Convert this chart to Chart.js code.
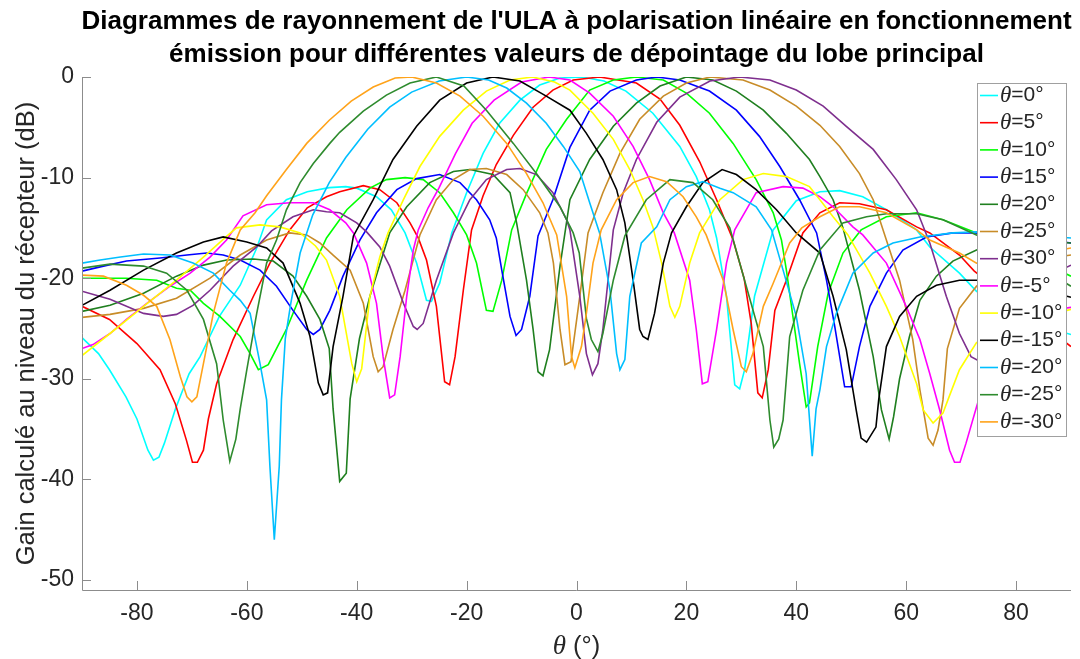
<!DOCTYPE html>
<html>
<head>
<meta charset="utf-8">
<script src="https://cdn.jsdelivr.net/npm/chart.js@4.4.1/dist/chart.umd.min.js"></script>
<style>
html, body { margin: 0; padding: 0; background: #fff; }
#wrap { width: 1080px; height: 659px; position: relative; }
</style>
</head>
<body>
<div id="wrap"><canvas id="chart"></canvas></div>
<script>
const xTicks = [-80, -60, -40, -20, 0, 20, 40, 60, 80];
const yTicks = [-50, -40, -30, -20, -10, 0];
const steerLabels = ["0", "5", "10", "15", "20", "25", "30", "-5", "-10", "-15", "-20", "-25", "-30"];

// [angle (deg), gain (dB)]
const gain0 = [[-90,-25.9],[-87,-27.5],[-85,-29.1],[-82,-31.8],[-80,-34],[-78,-37.1],[-77,-38.1],[-76,-37.8],[-75,-36.4],[-73,-33],[-70.5,-29.5],[-68.5,-27.8],[-65,-23.8],[-61.2,-20.7],[-58.2,-17],[-56.4,-14.2],[-52.8,-12.2],[-49,-11.4],[-45,-11],[-42,-10.9],[-40,-11.05],[-36.4,-11.9],[-33.7,-13.2],[-31.2,-15.5],[-29.1,-18.5],[-27.3,-22.2],[-26.4,-22.3],[-24.9,-20.5],[-22.7,-15.5],[-20,-11.5],[-17,-7.6],[-14,-4.6],[-10.3,-2.3],[-6.7,-0.8],[-3,-0.1],[1,0],[5,-0.4],[9,-1.4],[13.9,-3.6],[18.8,-6.9],[21.8,-9.9],[24.2,-13.2],[25.5,-16],[27.3,-21.8],[28.8,-30.6],[29.7,-31],[30.6,-29.1],[32.4,-21.8],[35.8,-15.2],[40,-12.3],[44.3,-11.4],[47.9,-11.3],[52.1,-11.9],[56.4,-13.2],[61.9,-15.2],[64.3,-16.9],[69.7,-19.5],[72.8,-21.3],[80,-23.5],[85,-24.8],[90,-25.6]];
const gain5 = [[-90,-22.8],[-85,-24.1],[-80,-26.5],[-75.8,-29.1],[-73,-32.5],[-71,-36.1],[-69.9,-38.3],[-69,-38.3],[-67.9,-37.1],[-67,-34],[-65.5,-30.5],[-62.5,-26.1],[-58.8,-21.8],[-55.8,-18.5],[-52.2,-15.2],[-49,-13],[-45.5,-11.9],[-43.1,-11.4],[-38.8,-10.8],[-35.8,-11.2],[-32.7,-12.5],[-30.3,-14.5],[-28.8,-16],[-27.3,-18.2],[-25.5,-22.8],[-24,-30.3],[-23.1,-30.6],[-22.1,-27.8],[-20.6,-21.2],[-19.1,-15.2],[-17,-11.8],[-14.6,-8.7],[-11.5,-5.8],[-7.9,-3],[-4.3,-1.3],[-0.6,-0.3],[4.2,0],[10.9,-0.6],[15.2,-2.2],[18.8,-4.8],[22.4,-8.4],[25.5,-12.2],[28.5,-16.2],[30.5,-20],[31.8,-24.5],[33,-31.4],[33.8,-31.9],[34.9,-29.1],[36.1,-23.2],[38.2,-20.2],[41.2,-15.5],[44.3,-13.5],[47.9,-12.5],[51.5,-12.6],[56.4,-13.2],[61.9,-14.9],[64.3,-15.5],[69.7,-17.7],[72.4,-19.3],[80,-22.5],[85,-24.7],[90,-26.8]];
const gain10 = [[-90,-20],[-82,-20],[-76.4,-20.2],[-72.8,-21],[-70.3,-21.2],[-67.9,-22.5],[-64.9,-23.8],[-61.2,-25.8],[-59.4,-27.5],[-57.9,-29.1],[-56.1,-28.6],[-52.8,-25.1],[-49.1,-20.2],[-45.5,-16],[-41.8,-13.2],[-37.6,-11.05],[-34.6,-10.2],[-31.2,-10],[-27.9,-10.2],[-24.9,-11.5],[-22.4,-13.5],[-20,-15.7],[-18.2,-18.5],[-16.4,-23.2],[-15.2,-23.3],[-13.6,-20.2],[-11.8,-15.2],[-9.1,-11.6],[-5.5,-7.2],[-1.8,-4.2],[2.4,-1.3],[6.7,-0.3],[10.9,0],[15.8,-0.3],[20,-1.6],[24.2,-3.6],[28.5,-6.6],[32.7,-10.2],[35.8,-13.5],[37.3,-16.2],[38.2,-19.2],[40.6,-28.5],[41.8,-32.8],[42.4,-32.4],[43.9,-26.8],[45.8,-21.5],[48.5,-17.5],[51.8,-15.2],[56.4,-13.9],[61.9,-13.5],[66.7,-14.2],[72.8,-15.5],[80,-17.2],[85,-18.5],[90,-19.8]];
const gain15 = [[-90,-19.3],[-86.1,-18.8],[-81.9,-18.3],[-75.8,-18],[-70.9,-17.7],[-67.3,-17.5],[-64.3,-17.7],[-61.2,-18.2],[-57.6,-19.2],[-54.6,-20.8],[-51.6,-23.2],[-49.1,-25.1],[-47.9,-25.6],[-46.7,-25.1],[-44.9,-23.2],[-42.5,-19.8],[-39.4,-16.2],[-36.4,-13.5],[-32.7,-11.2],[-29.1,-10.1],[-24.9,-9.7],[-21.2,-10.5],[-18.2,-12.2],[-15.8,-14.2],[-14.6,-16],[-13.6,-19.2],[-12.1,-23.8],[-11,-25.7],[-10,-25.1],[-8.5,-21.8],[-7,-15.8],[-4.3,-12.2],[-1.2,-7],[2.4,-3.3],[6.1,-1.4],[10.9,-0.3],[14.6,0],[18.8,-0.3],[24.2,-1.4],[29.1,-3.3],[33.3,-5.9],[37,-8.9],[40.6,-12.2],[43.7,-15.5],[45.5,-20.2],[47,-24.8],[48.8,-30.8],[50,-30.8],[51.5,-26.8],[53.4,-22.8],[56.4,-19.5],[59.4,-17.2],[63.7,-15.9],[68.5,-15.5],[72.8,-15.5],[80,-15.7],[90,-16.5]];
const gain20 = [[-90,-23.3],[-84.9,-22.7],[-78.8,-21.5],[-72.8,-19.8],[-67.9,-18.7],[-63.7,-18.2],[-58.8,-18.1],[-55.2,-18.3],[-51.6,-19.8],[-49.1,-21.8],[-46.7,-24.1],[-45,-27],[-44.3,-33],[-43.1,-40.2],[-41.9,-39.4],[-41.2,-32],[-39.5,-26],[-37.6,-21.8],[-34,-15.5],[-30.9,-12.9],[-26.7,-10.5],[-22.4,-9.4],[-19.4,-9.2],[-15.2,-9.7],[-12.1,-11.5],[-10.9,-14.5],[-9.1,-20.2],[-7.9,-25.1],[-7,-29.3],[-6.1,-29.7],[-4.9,-27.1],[-3,-18.8],[-1.2,-12.2],[2.4,-8.2],[6.7,-4.9],[10.9,-2.6],[15.2,-0.9],[20,0],[24.8,-0.3],[29.1,-1.4],[34,-3.3],[38.2,-5.6],[42.4,-8.2],[44.3,-9.9],[46.7,-12.2],[48.5,-15],[51.5,-21.2],[54,-27.8],[55.5,-33.1],[56.9,-36],[57.7,-33.8],[58.8,-30],[60.6,-25.8],[62.5,-22.2],[65.5,-19.8],[68.5,-18.3],[72.8,-17.2],[80,-16.2],[90,-16.5]];
const gain25 = [[-90,-23.9],[-84.9,-23.6],[-78.8,-23],[-72.8,-22],[-66.7,-20],[-61.2,-17.7],[-56.4,-16.2],[-52.2,-15.5],[-49.1,-15.7],[-46.7,-16.5],[-44.3,-17.7],[-41.2,-19.2],[-38.8,-22.5],[-37,-27.8],[-36.1,-29.3],[-35.2,-28.8],[-33.4,-25.1],[-31.2,-21.2],[-28.5,-15.7],[-25.5,-12.2],[-22.4,-10.2],[-19.4,-9.2],[-16.4,-9.1],[-12.7,-9.7],[-9.7,-11.2],[-6.7,-13.5],[-5.2,-15.5],[-4.2,-18.5],[-3,-25.1],[-2.1,-28.6],[-1,-28.3],[0.6,-21.8],[2.1,-15.5],[4.8,-11.5],[7.9,-7.6],[11.5,-4.2],[15.8,-1.9],[20,-0.6],[24.3,0],[30.3,-0.3],[35.2,-1.3],[40,-2.9],[44.3,-4.8],[47.9,-6.9],[51.5,-9.6],[54,-12.2],[55.8,-15.2],[58.8,-20.2],[61.2,-26.1],[62.5,-31.1],[64,-35.9],[64.9,-36.6],[65.8,-35.1],[66.7,-32.1],[67.5,-27],[69.7,-23],[72.8,-20.8],[80,-18.5],[90,-17.7]];
const gain30 = [[-90,-21.3],[-84.9,-22.1],[-78.8,-23.5],[-75.2,-23.8],[-72.8,-23.6],[-69.8,-22.7],[-66.7,-21.2],[-62.5,-18.8],[-58.2,-16.9],[-55.5,-15.3],[-51.6,-13.9],[-47.9,-13.2],[-45.5,-13.4],[-43.1,-13.5],[-40,-14.5],[-38.2,-15.4],[-35.8,-16.9],[-34,-18.8],[-31.5,-22.5],[-29.7,-24.8],[-29,-25.1],[-27.9,-24.5],[-25.5,-20.2],[-22.4,-15.5],[-19.4,-12.2],[-16.4,-10.2],[-12.7,-9.2],[-10.3,-9.1],[-7.3,-9.7],[-4.3,-11.5],[-1.8,-14.2],[-1.2,-15.2],[0.6,-21.8],[1.8,-27.5],[2.9,-29.6],[3.9,-28.5],[4.8,-25.1],[6.7,-15.2],[8.5,-11.5],[10.9,-8.2],[14.6,-4.5],[18.8,-2],[24.3,-0.4],[29.7,0],[35.2,-0.3],[40,-1.3],[44.9,-2.9],[49.1,-4.9],[54,-7.2],[58.2,-10.2],[61.9,-13.2],[64.3,-16.5],[67.3,-21.8],[69.7,-25.5],[71.8,-27.8],[73.5,-28.3],[76,-26],[80,-22.5],[85,-20],[90,-18.7]];
const gainM5 = [[-90,-27],[-88,-26.6],[-84.9,-25.5],[-81.9,-24.1],[-78.2,-22.5],[-74,-20.8],[-70.3,-19.5],[-66.7,-17.9],[-63.7,-16.2],[-60.7,-13.8],[-56.4,-12.7],[-52.2,-12.5],[-47.9,-12.5],[-44.9,-13.2],[-42,-14.5],[-40.6,-15.5],[-38.2,-18.5],[-36.4,-22.5],[-35.2,-27.8],[-34,-31.9],[-33.1,-31.6],[-32.1,-27.8],[-30.9,-21.8],[-29.7,-17.2],[-28.8,-15.2],[-27,-13],[-25,-11],[-22,-7.6],[-19,-4.6],[-15,-2.3],[-10,-0.5],[-5,0],[-1.2,-0.3],[2.4,-1.6],[6.7,-3.9],[10.3,-6.9],[13.3,-10.2],[15.8,-13.5],[17.8,-15.5],[20.6,-20.2],[21.8,-25.1],[22.9,-30.5],[23.9,-30.3],[25.5,-25.1],[27.3,-18.5],[28.8,-15.2],[32.7,-11.5],[37.6,-10.9],[41.2,-11.05],[44.3,-11.9],[46.7,-12.9],[50.3,-14.9],[52.1,-15.7],[56.4,-18.5],[60,-22.8],[62.5,-26.1],[64.3,-29.5],[66.1,-33.1],[67.9,-37.1],[68.8,-38.3],[69.8,-38.3],[70.9,-36.4],[72.8,-32.8],[76,-27],[80,-24.5],[85,-23.3],[90,-22.9]];
const gainM10 = [[-90,-27.7],[-84.9,-25.5],[-78.8,-22.8],[-72.8,-20.2],[-67.9,-17.9],[-64,-16],[-61.9,-15],[-57.6,-14.7],[-54,-14.9],[-50.3,-15.5],[-47.5,-16.8],[-45.5,-18.2],[-43.1,-21.8],[-40.9,-28.5],[-40,-30.3],[-39.1,-29],[-37.6,-21.8],[-35.8,-17.9],[-34.3,-15.5],[-31.5,-12.2],[-28.5,-8.9],[-24.9,-5.9],[-20.6,-3.3],[-16.4,-1.4],[-12.1,-0.3],[-8,0],[-4,-0.5],[-1.2,-1.3],[3,-3.6],[6.7,-6.2],[9.7,-9.2],[12.1,-12.2],[13.9,-14.9],[15.5,-18.5],[17,-22.8],[17.9,-23.9],[18.8,-22.8],[20.6,-18.5],[22.4,-15.5],[26.1,-12.2],[30.3,-10.2],[34,-9.6],[38.2,-9.9],[42.4,-10.9],[44.3,-12.2],[46.7,-13.9],[49.4,-15.7],[53.4,-19.5],[56.4,-22.8],[58.8,-25.8],[61.9,-30.5],[63.1,-33.1],[64.9,-34.4],[66.7,-33.4],[67.6,-32.1],[69.7,-29.1],[72.8,-26.4],[80,-24.5],[90,-23.1]];
const gainM15 = [[-90,-22.7],[-84.9,-21.2],[-78.8,-19.2],[-72.8,-17.5],[-67.9,-16.4],[-64.3,-15.9],[-60,-16.4],[-56.4,-17],[-53.4,-18.5],[-50.3,-22.5],[-48.5,-25.8],[-47,-30.4],[-46.1,-31.6],[-45.3,-31.4],[-44.3,-26.8],[-42.5,-21.8],[-40.6,-15.8],[-37,-12.2],[-33.4,-8.2],[-29.1,-4.9],[-24.9,-2.3],[-20,-0.6],[-15.2,0],[-10.3,-0.4],[-5.5,-1.9],[-1.2,-3.3],[1.8,-5.6],[4.8,-8.2],[7.3,-11.2],[8.8,-14.5],[10.3,-20.2],[11.5,-25.1],[12.1,-25.8],[13,-26.1],[14.2,-23.5],[15.8,-18.5],[17.3,-15.5],[20,-12.9],[23,-10.5],[26.5,-9.2],[29.1,-9.7],[32.7,-11.2],[36.4,-13.2],[40,-15.5],[44.3,-17.5],[46.7,-21.8],[49.1,-27.1],[50.9,-33.1],[51.8,-35.9],[52.8,-36.3],[54.5,-34.8],[55,-32.1],[56.4,-26.8],[58.8,-23.8],[61.9,-21.8],[65.5,-20.7],[69.7,-20.2],[72.8,-20.2],[80,-20.5],[90,-21.9]];
const gainM20 = [[-90,-18.5],[-86.7,-18.2],[-83,-17.9],[-78.8,-17.6],[-74,-17.7],[-69.8,-18.5],[-66.1,-19.5],[-63.1,-21.2],[-61.2,-22.2],[-59.4,-23.5],[-57.6,-28.5],[-56.4,-32.1],[-55.8,-38.7],[-55,-46],[-54.1,-38.7],[-53.7,-32.1],[-53,-26],[-52,-22.5],[-50.3,-17.5],[-48,-13.7],[-45,-10.5],[-42,-8],[-38,-5.2],[-34,-3],[-30,-1.5],[-25,-0.4],[-20,0],[-16,-0.3],[-12.7,-1.1],[-9.1,-2.6],[-5.5,-4.6],[-2.4,-6.9],[0.6,-9.4],[2.4,-12.5],[4.2,-15.5],[6.1,-21.2],[7.3,-27.5],[7.9,-29.1],[8.8,-28.1],[9.7,-21.8],[11.8,-16.5],[14.6,-14.9],[17,-12.2],[20,-10.9],[23,-10.4],[26.1,-11.05],[28.5,-11.5],[32.7,-12.9],[35.5,-15.2],[37.6,-19.2],[40,-23.8],[41.8,-29.5],[42.9,-37.7],[43.6,-33],[44.3,-31.1],[45.5,-26.8],[47.3,-23.5],[50.3,-19.5],[54,-17.5],[57.6,-16.5],[62.5,-15.9],[68.5,-15.5],[72.8,-15.4],[80,-15.6],[90,-16]];
const gainM25 = [[-90,-19],[-84.9,-18.6],[-78.8,-18.8],[-74.6,-19.5],[-70.9,-21.2],[-67.9,-24.1],[-65.5,-28.5],[-64.3,-34.1],[-63.1,-38.2],[-62,-36],[-61.2,-33],[-60,-29.1],[-58.2,-23.5],[-56.4,-18.5],[-54.6,-16.2],[-52.8,-13.2],[-50.3,-10.5],[-47.9,-8.6],[-44.9,-6.6],[-43.1,-5.5],[-38.8,-3.4],[-34.6,-1.8],[-30.3,-0.6],[-25.5,0],[-20.5,-0.9],[-16.4,-3.3],[-11.5,-6.6],[-7.3,-9.6],[-3,-12.9],[-0.6,-15.5],[0.5,-17.5],[1.8,-24],[2.7,-26.1],[3.9,-27.3],[4.8,-25.5],[6.7,-20.2],[8.8,-15.8],[12.7,-12.2],[17,-10.2],[21.2,-10.5],[24.8,-12.2],[27.9,-15],[31,-21],[34,-26.8],[35.2,-34.1],[35.9,-36.8],[36.8,-36],[37.6,-34.1],[38.8,-25.8],[41.2,-21.2],[44.3,-17.2],[48.5,-14.5],[52.8,-13.9],[56.4,-13.6],[61.9,-13.6],[66.7,-14.2],[72.8,-15.7],[80,-17.5],[90,-20.8]];
const gainM30 = [[-90,-19.7],[-86.1,-19.8],[-81.9,-20.7],[-78.8,-21.7],[-76.4,-22.8],[-74,-26.1],[-72.1,-29.8],[-70.9,-31.8],[-70,-32.3],[-69.1,-31.8],[-67.9,-28.5],[-66.1,-23.5],[-63.7,-18.5],[-61.2,-15.2],[-58.5,-13.5],[-56.4,-11.8],[-52.8,-9.2],[-49.1,-6.6],[-45,-4.3],[-41,-2.4],[-37,-1],[-33,-0.1],[-30,0],[-25.5,-0.6],[-21.2,-1.9],[-17,-3.9],[-12.7,-6.6],[-9.1,-9.6],[-6.1,-12.5],[-3.6,-15.7],[-1.8,-21.8],[-0.9,-27.8],[-0.3,-28.9],[0.9,-26.8],[1.8,-23.5],[3,-18.5],[4.5,-15.2],[7.3,-12.2],[10.3,-10.5],[13.3,-9.9],[16.4,-10.4],[19.4,-11.9],[21.8,-13.9],[23.6,-15.7],[26.7,-20.2],[28.5,-25.1],[30,-28.8],[30.9,-29.3],[32.1,-27.5],[34,-22.8],[35.8,-20.5],[38.8,-16.5],[41,-15],[44.3,-13.9],[47.9,-12.9],[51.5,-12.9],[56.4,-13.5],[61.9,-15.2],[64.3,-16.2],[69.7,-17.5],[72.8,-18.5],[80,-18],[90,-17]];

const allGains = [gain0, gain5, gain10, gain15, gain20, gain25, gain30, gainM5, gainM10, gainM15, gainM20, gainM25, gainM30];
const lineColors = ["#00ffff", "#ff0000", "#00ff00", "#0000ff", "#1f7f1f", "#c88c28", "#7e2f8e", "#ff00ff", "#ffff00", "#000000", "#00bfff", "#2e8b2e", "#ffa31a"];

const SANS = '"Liberation Sans", Arial, sans-serif';
const SERIF = '"Liberation Serif", "Times New Roman", serif';
const AXIS_GREY = "#8c8c8c";
const TEXT_DARK = "#262626";

const decorations = {
  id: "decorations",
  afterDraw(chart) {
    const { ctx, chartArea: area, scales: { x, y } } = chart;
    ctx.save();

    // axis lines and inward ticks
    ctx.strokeStyle = AXIS_GREY;
    ctx.lineWidth = 1;
    ctx.beginPath();
    ctx.moveTo(area.left + 0.5, area.top);
    ctx.lineTo(area.left + 0.5, area.bottom + 0.5);
    ctx.lineTo(area.right, area.bottom + 0.5);
    xTicks.forEach(v => {
      const px = Math.round(x.getPixelForValue(v)) + 0.5;
      ctx.moveTo(px, area.bottom);
      ctx.lineTo(px, area.bottom - 9);
    });
    yTicks.forEach(v => {
      const py = Math.round(y.getPixelForValue(v)) + 0.5;
      ctx.moveTo(area.left, py);
      ctx.lineTo(area.left + 9, py);
    });
    ctx.stroke();

    const midX = (area.left + area.right) / 2;

    // title
    ctx.fillStyle = "#000";
    ctx.textAlign = "center";
    ctx.textBaseline = "middle";
    ctx.font = "bold 26px " + SANS;
    ctx.fillText("Diagrammes de rayonnement de l'ULA à polarisation linéaire en fonctionnement", midX, 22);
    ctx.fillText("émission pour différentes valeurs de dépointage du lobe principal", midX, 55);

    // y axis title
    ctx.fillStyle = TEXT_DARK;
    ctx.save();
    ctx.translate(27, (area.top + area.bottom) / 2);
    ctx.rotate(-Math.PI / 2);
    ctx.font = "25.5px " + SANS;
    ctx.fillText("Gain calculé au niveau du récepteur (dB)", 0, 0);
    ctx.restore();

    // x axis title: italic theta + " (°)"
    ctx.font = "italic 27px " + SERIF;
    const thW = ctx.measureText("θ").width;
    ctx.font = "25.5px " + SANS;
    const restW = ctx.measureText(" (°)").width;
    const tx = midX - (thW + restW) / 2;
    ctx.textAlign = "left";
    ctx.font = "italic 27px " + SERIF;
    ctx.fillText("θ", tx, 647);
    ctx.font = "25.5px " + SANS;
    ctx.fillText(" (°)", tx + thW, 647);

    // legend box
    const lx = area.right - 94, ly = area.top + 6, lw = 89, lh = 353;
    ctx.fillStyle = "#fff";
    ctx.fillRect(lx, ly, lw, lh);
    ctx.strokeStyle = "#a0a0a0";
    ctx.strokeRect(lx + 0.5, ly + 0.5, lw, lh);
    steerLabels.forEach((lab, i) => {
      const cy = ly + 12.5 + i * 27.2;
      ctx.strokeStyle = lineColors[i];
      ctx.lineWidth = 1.6;
      ctx.beginPath();
      ctx.moveTo(lx + 3, cy);
      ctx.lineTo(lx + 21, cy);
      ctx.stroke();
      ctx.fillStyle = TEXT_DARK;
      ctx.textAlign = "left";
      ctx.textBaseline = "middle";
      ctx.font = "italic 23px " + SERIF;
      ctx.fillText("θ", lx + 23, cy);
      const w = ctx.measureText("θ").width;
      ctx.font = "21px " + SANS;
      ctx.fillText("=" + lab + "°", lx + 23 + w, cy);
    });

    ctx.restore();
  }
};

new Chart(document.getElementById("chart"), {
  type: "line",
  data: {
    datasets: allGains.map((pts, i) => ({
      label: "θ=" + steerLabels[i] + "°",
      data: pts.map(p => ({ x: p[0], y: p[1] })),
      borderColor: lineColors[i],
      backgroundColor: lineColors[i],
      borderWidth: 1.6,
      pointRadius: 0,
      tension: 0,
      fill: false,
      order: allGains.length - i
    }))
  },
  options: {
    responsive: true,
    maintainAspectRatio: false,
    animation: false,
    layout: { padding: { top: 77, right: 9, left: 0, bottom: 0 } },
    plugins: { legend: { display: false }, title: { display: false }, tooltip: { enabled: false } },
    scales: {
      x: {
        type: "linear",
        min: -90,
        max: 90,
        afterBuildTicks: s => { s.ticks = xTicks.map(v => ({ value: v })); },
        afterFit: s => { s.height = 69; },
        grid: { display: false, drawTicks: false },
        border: { display: false },
        ticks: { color: TEXT_DARK, font: { family: SANS, size: 23 }, padding: 10, maxRotation: 0, callback: v => String(v) }
      },
      y: {
        type: "linear",
        min: -51,
        max: 0,
        afterBuildTicks: s => { s.ticks = yTicks.map(v => ({ value: v })); },
        afterFit: s => { s.width = 82; },
        grid: { display: false, drawTicks: false },
        border: { display: false },
        ticks: { color: TEXT_DARK, font: { family: SANS, size: 23 }, padding: 8, callback: v => String(v) }
      }
    }
  },
  plugins: [decorations]
});
</script>
</body>
</html>
